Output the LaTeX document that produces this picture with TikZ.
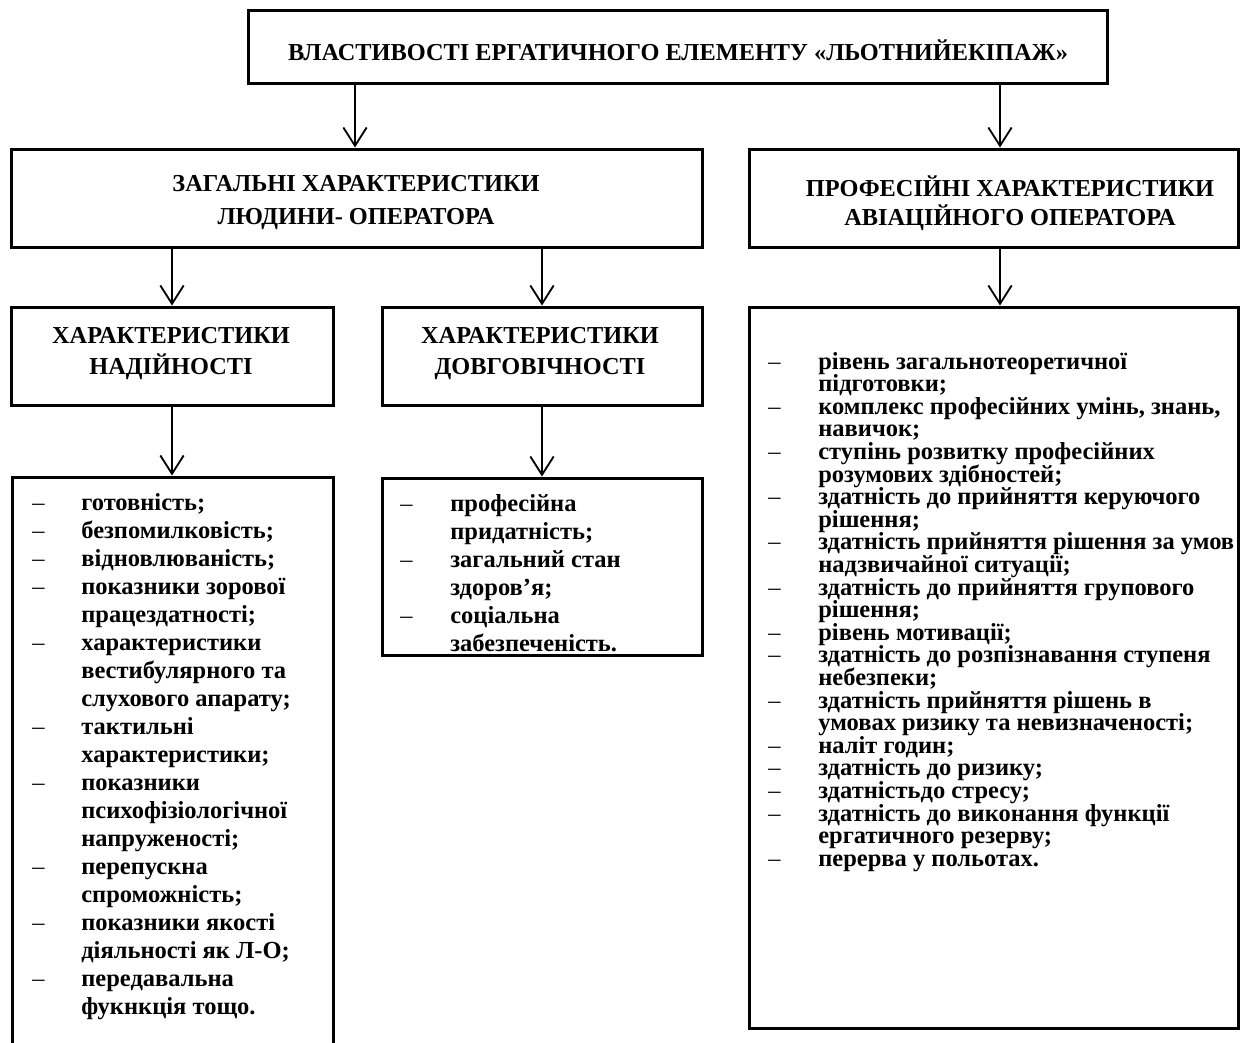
\documentclass[tikz,border=0pt]{standalone}
\usepackage{fontspec}
\setmainfont{Liberation Serif}
\newfontfamily\boldserif{Liberation Serif Bold}
\usetikzlibrary{arrows.meta}
\begin{document}
\begin{tikzpicture}[x=0.6pt,y=-0.6pt,
  box/.style={draw, line width=1.8pt, inner sep=0pt},
  conn/.style={line width=1.1pt, -{Straight Barb[length=11pt,width=14pt,line width=1.1pt]}},
  titletext/.style={font=\fontsize{14.6}{18}\selectfont\boldserif, inner sep=0pt},
  head/.style={font=\fontsize{14.6}{#1}\selectfont\boldserif, align=center, inner sep=0pt},
  item/.style={font=\fontsize{14.7}{17}\selectfont\boldserif, anchor=base west, inner sep=0pt},
  bullet/.style={font=\fontsize{14.7}{17}\selectfont\rmfamily, anchor=base west, inner sep=0pt}
]
\useasboundingbox (0,0) rectangle (1240,1043);
\clip (0,0) rectangle (1240,1043);

% frames
\node[box, minimum width=515.4pt, minimum height=43.8pt] (top) at (677.5,46.5) {};
\node[box, minimum width=414.6pt, minimum height=58.8pt] (gen) at (356.5,198) {};
\node[box, minimum width=293.4pt, minimum height=58.8pt] (prof) at (993.5,198) {};
\node[box, minimum width=193.2pt, minimum height=58.8pt] (rel) at (172,356) {};
\node[box, minimum width=192pt, minimum height=58.8pt] (dur) at (542,356) {};
\node[box, minimum width=192.6pt, minimum height=355.8pt] (rellist) at (172.5,773.5) {};
\node[box, minimum width=192pt, minimum height=106.2pt] (durlist) at (542,566.5) {};
\node[box, minimum width=293.4pt, minimum height=432.6pt] (proflist) at (993.5,667.5) {};

% headings
\node[titletext] (ttl) at (678,50) {ВЛАСТИВОСТІ ЕРГАТИЧНОГО ЕЛЕМЕНТУ «ЛЬОТНИЙЕКІПАЖ»};
\node[head=19.8pt] (genT) at (356,203) {ЗАГАЛЬНІ ХАРАКТЕРИСТИКИ\\ЛЮДИНИ- ОПЕРАТОРА};
\node[head=17.4pt] (profT) at (1010,203) {ПРОФЕСІЙНІ ХАРАКТЕРИСТИКИ\\АВІАЦІЙНОГО ОПЕРАТОРА};
\node[head=18.6pt] (relT) at (171,354) {ХАРАКТЕРИСТИКИ\\НАДІЙНОСТІ};
\node[head=18.6pt] (durT) at (540,354) {ХАРАКТЕРИСТИКИ\\ДОВГОВІЧНОСТІ};

% connectors
\coordinate (xa) at (355,0);
\coordinate (xb) at (1000,0);
\draw[conn] (top.south -| xa) -- (gen.north -| xa);
\draw[conn] (top.south -| xb) -- (prof.north -| xb);
\draw[conn] (gen.south -| rel.north) -- (rel.north);
\draw[conn] (gen.south -| dur.north) -- (dur.north);
\draw[conn] (prof.south -| xb) -- (proflist.north -| xb);
\draw[conn] (rel.south) -- (rellist.north -| rel.south);
\draw[conn] (dur.south) -- (durlist.north -| dur.south);

% reliability list
\foreach \d/\t [count=\i from 0] in {
  1/готовність;, 1/безпомилковість;, 1/відновлюваність;,
  1/показники зорової, 0/працездатності;,
  1/характеристики, 0/вестибулярного та, 0/слухового апарату;,
  1/тактильні, 0/характеристики;,
  1/показники, 0/психофізіологічної, 0/напруженості;,
  1/перепускна, 0/спроможність;,
  1/показники якості, 0/діяльності як Л-О;,
  1/передавальна, 0/фукнкція тощо.}{
  \node[item] (rl\i) at (81,510+28*\i) {\t};
  \ifnum\d=1 \node[bullet] (rd\i) at (32,510+28*\i) {–};\fi
}

% durability list
\foreach \d/\t [count=\i from 0] in {
  1/професійна, 0/придатність;,
  1/загальний стан, 0/здоров’я;,
  1/соціальна, 0/забезпеченість.}{
  \node[item] (dl\i) at (450,511+28*\i) {\t};
  \ifnum\d=1 \node[bullet] (dd\i) at (400,511+28*\i) {–};\fi
}

% professional list
\foreach \d/\t [count=\i from 0] in {
  1/рівень загальнотеоретичної, 0/підготовки;,
  1/{комплекс професійних умінь, знань,}, 0/навичок;,
  1/ступінь розвитку професійних, 0/розумових здібностей;,
  1/здатність до прийняття керуючого, 0/рішення;,
  1/здатність прийняття рішення за умов, 0/надзвичайної ситуації;,
  1/здатність до прийняття групового, 0/рішення;,
  1/рівень мотивації;,
  1/здатність до розпізнавання ступеня, 0/небезпеки;,
  1/здатність прийняття рішень в, 0/умовах ризику та невизначеності;,
  1/наліт годин;,
  1/здатність до ризику;,
  1/здатністьдо стресу;,
  1/здатність до виконання функції, 0/ергатичного резерву;,
  1/перерва у польотах.}{
  \node[item] (pl\i) at (818,369+22.6*\i) {\t};
  \ifnum\d=1 \node[bullet] (pd\i) at (768,369+22.6*\i) {–};\fi
}
\end{tikzpicture}
\end{document}
